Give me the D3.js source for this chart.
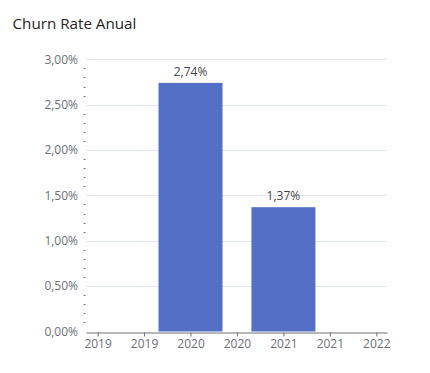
<!DOCTYPE html>
<html>
<head>
<meta charset="utf-8">
<script src="https://cdn.jsdelivr.net/npm/d3@7"></script>
<style>
  body { margin: 0; background: #fff; }
  svg { display: block; font-family: "Open Sans", sans-serif; }
</style>
</head>
<body>
<div id="chart"></div>
<script>
const years = [2020, 2021];
const churn = [2.74, 1.37];
const y_ticks = [0, 0.5, 1, 1.5, 2, 2.5, 3];
const x_ticks = [2019, 2019.5, 2020, 2020.5, 2021, 2021.5, 2022];

const width = 430;
const height = 373;

const x = d3.scaleLinear()
    .domain([2018.875, 2022.115])
    .range([86, 387]);

const y = d3.scaleLinear()
    .domain([0, 3])
    .range([331.5, 59.3]);

const fmt = v => v.toFixed(2).replace('.', ',') + '%';

const svg = d3.select("#chart")
    .append("svg")
    .attr("width", width)
    .attr("height", height);

svg.append("text")
    .attr("x", 12.5)
    .attr("y", 29)
    .attr("font-size", 15.2)
    .attr("font-weight", 500)
    .attr("fill", "#252423")
    .text("Churn Rate Anual");

// gridlines
svg.append("g")
    .selectAll("line")
    .data(y_ticks.slice(1))
    .enter().append("line")
    .attr("x1", x.range()[0])
    .attr("x2", x.range()[1])
    .attr("y1", d => Math.round(y(d)) + 0.5)
    .attr("y2", d => Math.round(y(d)) + 0.5)
    .attr("stroke", "#E0E6F1");

// minor ticks on the y axis
const minor = [];
for (let i = 0; i < y_ticks.length - 1; i++) {
    for (let k = 1; k < 5; k++) minor.push(y_ticks[i] + k * 0.1);
}
svg.append("g")
    .selectAll("line")
    .data(minor)
    .enter().append("line")
    .attr("x1", 83.5)
    .attr("x2", 85.5)
    .attr("y1", d => Math.round(y(d)) + 0.5)
    .attr("y2", d => Math.round(y(d)) + 0.5)
    .attr("stroke", "#6E7079");

// y labels
svg.append("g")
    .selectAll("text")
    .data(y_ticks)
    .enter().append("text")
    .attr("x", 78)
    .attr("y", d => y(d))
    .attr("dy", "0.35em")
    .attr("text-anchor", "end")
    .attr("font-size", 12)
    .attr("fill", "#6E7079")
    .text(fmt);

// bars
const bar_w = 64;
svg.append("g")
    .selectAll("rect")
    .data(years)
    .enter().append("rect")
    .attr("x", (d) => x(d) - bar_w / 2)
    .attr("y", (d, i) => y(churn[i]))
    .attr("width", bar_w)
    .attr("height", (d, i) => y(0) - y(churn[i]))
    .attr("fill", "#5470C6");

svg.append("g")
    .selectAll("text")
    .data(years)
    .enter().append("text")
    .attr("x", d => x(d))
    .attr("y", (d, i) => y(churn[i]) - 7)
    .attr("text-anchor", "middle")
    .attr("font-size", 12)
    .attr("fill", "#464646")
    .text((d, i) => fmt(churn[i]));

// x axis
const x_axis = d3.axisBottom(x)
    .tickValues(x_ticks)
    .tickFormat(d => Math.floor(d))
    .tickSize(4)
    .tickPadding(3)
    .tickSizeOuter(0);

const gx = svg.append("g")
    .attr("transform", "translate(0," + (Math.round(y(0)) + 0.5) + ")")
    .call(x_axis);
gx.select(".domain").attr("stroke", "#6E7079");
gx.selectAll(".tick line").attr("stroke", "#6E7079");
gx.selectAll(".tick text")
    .attr("font-size", 12)
    .attr("font-family", "Open Sans, sans-serif")
    .attr("fill", "#6E7079");
</script>
</body>
</html>
